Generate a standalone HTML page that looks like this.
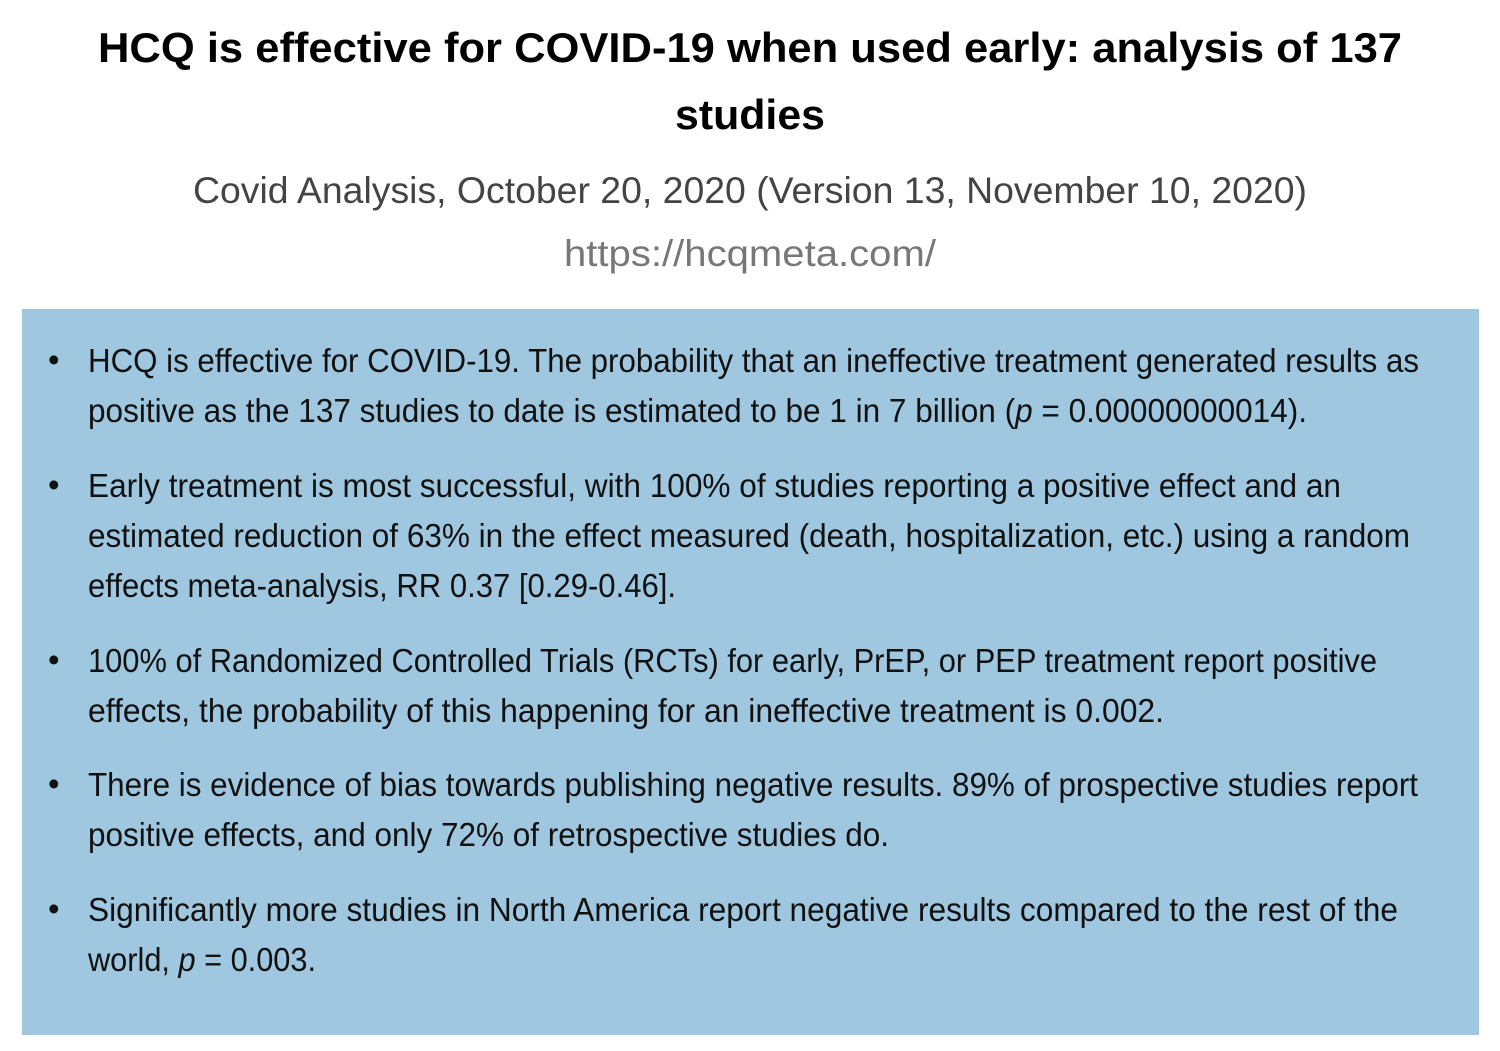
<!DOCTYPE html>
<html><head><meta charset="utf-8"><style>html,body{margin:0;padding:0;background:#fff}svg{display:block}</style></head><body>
<svg width="1500" height="1051" viewBox="0 0 1500 1051" xmlns="http://www.w3.org/2000/svg" font-family="Liberation Sans, sans-serif">
<rect width="1500" height="1051" fill="#fff"/>
<text x="98" y="62" font-size="42" font-weight="bold" fill="#000" textLength="1304" lengthAdjust="spacingAndGlyphs">HCQ is effective for COVID-19 when used early: analysis of 137</text>
<text x="675" y="129" font-size="42" font-weight="bold" fill="#000" textLength="150" lengthAdjust="spacingAndGlyphs">studies</text>
<text x="193" y="203" font-size="37" fill="#444" textLength="1114" lengthAdjust="spacingAndGlyphs">Covid Analysis, October 20, 2020 (Version 13, November 10, 2020)</text>
<text x="564" y="266" font-size="37" fill="#777" textLength="372" lengthAdjust="spacingAndGlyphs">https://hcqmeta.com/</text>
<rect x="22" y="309" width="1457" height="726" fill="#a0c7e0"/>
<g font-size="33" fill="#111">
<text x="48" y="371">•</text><text x="48" y="496">•</text><text x="48" y="671">•</text><text x="48" y="795">•</text><text x="48" y="920">•</text>
<text x="88" y="372" textLength="1331" lengthAdjust="spacingAndGlyphs">HCQ is effective for COVID-19. The probability that an ineffective treatment generated results as</text>
<text x="88" y="422" textLength="1219" lengthAdjust="spacingAndGlyphs">positive as the 137 studies to date is estimated to be 1 in 7 billion (<tspan font-style="italic">p</tspan> = 0.00000000014).</text>
<text x="88" y="497" textLength="1253" lengthAdjust="spacingAndGlyphs">Early treatment is most successful, with 100% of studies reporting a positive effect and an</text>
<text x="88" y="547" textLength="1322" lengthAdjust="spacingAndGlyphs">estimated reduction of 63% in the effect measured (death, hospitalization, etc.) using a random</text>
<text x="88" y="597" textLength="588" lengthAdjust="spacingAndGlyphs">effects meta-analysis, RR 0.37 [0.29-0.46].</text>
<text x="88" y="672" textLength="1289" lengthAdjust="spacingAndGlyphs">100% of Randomized Controlled Trials (RCTs) for early, PrEP, or PEP treatment report positive</text>
<text x="88" y="722" textLength="1076" lengthAdjust="spacingAndGlyphs">effects, the probability of this happening for an ineffective treatment is 0.002.</text>
<text x="88" y="796" textLength="1330" lengthAdjust="spacingAndGlyphs">There is evidence of bias towards publishing negative results. 89% of prospective studies report</text>
<text x="88" y="846" textLength="801" lengthAdjust="spacingAndGlyphs">positive effects, and only 72% of retrospective studies do.</text>
<text x="88" y="921" textLength="1310" lengthAdjust="spacingAndGlyphs">Significantly more studies in North America report negative results compared to the rest of the</text>
<text x="88" y="971" textLength="228" lengthAdjust="spacingAndGlyphs">world, <tspan font-style="italic">p</tspan> = 0.003.</text>
</g>
</svg>
</body></html>
